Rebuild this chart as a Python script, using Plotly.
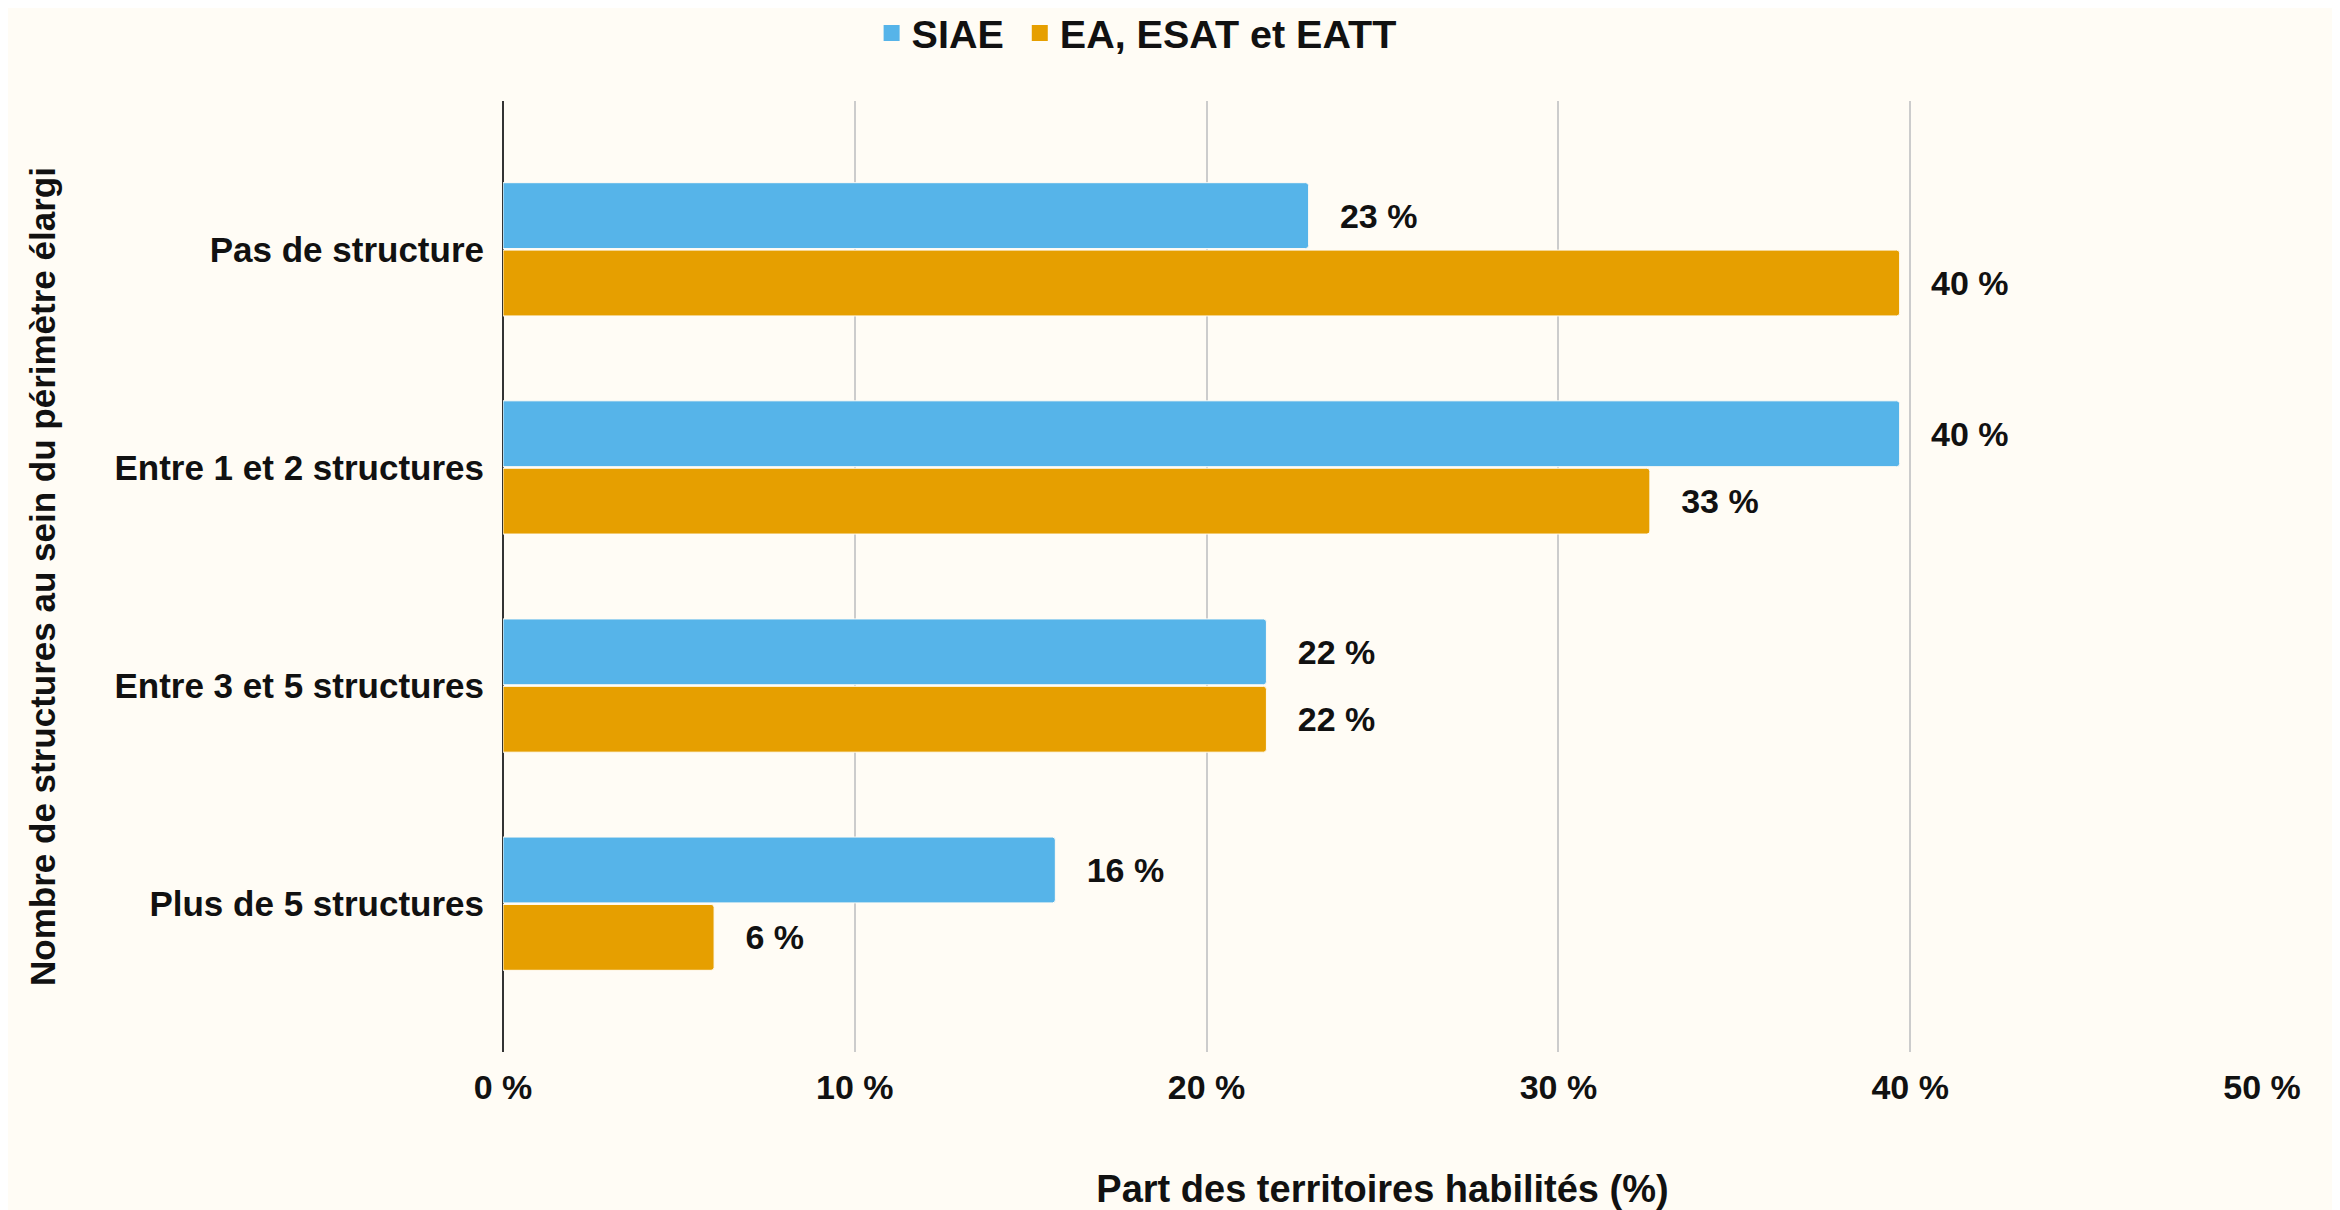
"""
Part des territoires habilités selon le nombre de structures
"""

import plotly.graph_objects as go

categories = [
    "Pas de structure",
    "Entre 1 et 2 structures",
    "Entre 3 et 5 structures",
    "Plus de 5 structures",
]
siae = [22.9, 39.7, 21.7, 15.7]
ea_esat = [39.7, 32.6, 21.7, 6.0]
series_names = ["SIAE", "EA, ESAT et EATT"]
x_ticks = [0, 10, 20, 30, 40, 50]

BLUE = "#56B4E9"
ORANGE = "#E69F00"
BG = "#FFFCF5"
FONT = "Liberation Sans, Arial, sans-serif"

fig = go.Figure()

for name, values, color in zip(series_names, [siae, ea_esat], [BLUE, ORANGE]):
    fig.add_trace(
        go.Bar(
            name=name,
            y=categories,
            x=values,
            orientation="h",
            marker=dict(color=color, line=dict(color=BG, width=1), cornerradius=3),
            texttemplate="\u00a0\u00a0\u00a0%{x:.0f} %",
            textposition="outside",
            constraintext="none",
            cliponaxis=False,
            textfont=dict(family=FONT, size=34, color="#111111", weight="bold"),
            showlegend=False,
        )
    )
    # legend entry with a bigger square swatch (nbsp pads the gap between entries)
    fig.add_trace(
        go.Scatter(
            name=name + "\u00a0",
            x=[None],
            y=[None],
            mode="markers",
            marker=dict(symbol="square", size=17, color=color),
        )
    )

# the page body adds an 8px offset, so the figure is a bit smaller than the window
fig.update_layout(
    width=2324,
    height=1202,
    barmode="group",
    bargap=0.382,
    bargroupgap=0.023,
    plot_bgcolor=BG,
    paper_bgcolor=BG,
    font=dict(family=FONT, color="#111111", weight="bold"),
    margin=dict(l=495, r=70, t=93, b=158),
    legend=dict(
        orientation="h",
        xref="container",
        yref="container",
        x=0.488,
        y=0.979,
        xanchor="center",
        yanchor="middle",
        font=dict(size=39.5, weight="bold"),
        bgcolor="rgba(0,0,0,0)",
        traceorder="normal",
        itemwidth=30,
    ),
)

fig.update_xaxes(
    range=[0, 50],
    tickvals=x_ticks,
    ticktext=[f"{v} %" for v in x_ticks],
    tickfont=dict(size=34, weight="bold"),
    showgrid=True,
    gridcolor="#CCCCCC",
    gridwidth=2,
    zeroline=True,
    zerolinecolor="#333333",
    zerolinewidth=2,
    showline=False,
    ticks="",
    ticklabelstandoff=12,
    automargin=False,
    title=dict(
        text="Part des territoires habilités (%)",
        font=dict(size=38, weight="bold"),
        standoff=70,
    ),
)

fig.update_yaxes(
    categoryorder="array",
    categoryarray=categories,
    range=[3.68, -0.68],
    tickfont=dict(size=35, weight="bold"),
    showgrid=False,
    ticks="",
    ticklabelstandoff=18,
    automargin=False,
    title=dict(
        text="Nombre de structures au sein du périmètre élargi",
        font=dict(size=35, weight="bold"),
        standoff=48,
    ),
)

fig.write_html("out.html")
